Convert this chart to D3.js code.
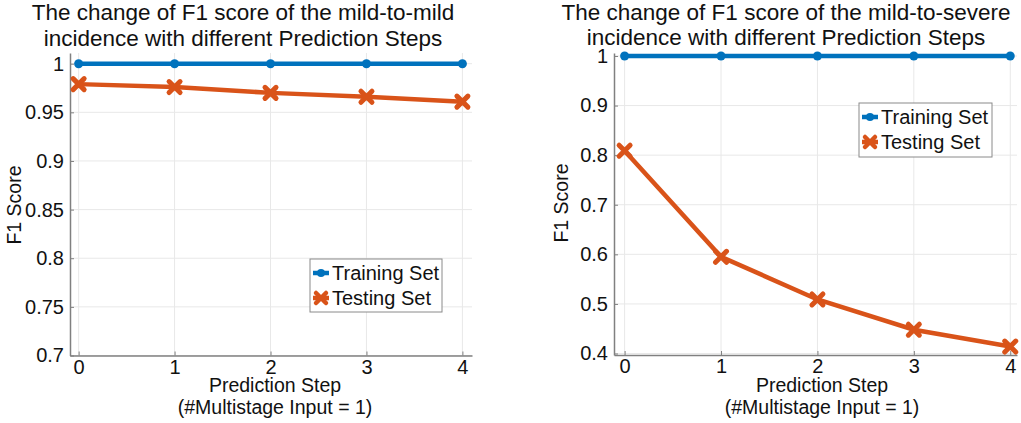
<!DOCTYPE html>
<html><head><meta charset="utf-8">
<script src="https://cdn.jsdelivr.net/npm/d3@7"></script>
<style>body{margin:0;background:#fff;} svg{display:block;font-family:"Liberation Sans",Arial,sans-serif;}</style>
</head><body>
<svg id="c" width="1021" height="423"></svg>
<script>
const steps = [0, 1, 2, 3, 4];
const trainMild = [1, 1, 1, 1, 1];
const testMild = [0.979, 0.976, 0.970, 0.966, 0.961];
const trainSevere = [1, 1, 1, 1, 1];
const testSevere = [0.809, 0.595, 0.509, 0.448, 0.414];
const yTicksMild = [0.7, 0.75, 0.8, 0.85, 0.9, 0.95, 1];
const yTicksSevere = [0.4, 0.5, 0.6, 0.7, 0.8, 0.9, 1];
const titlesMild = ["The change of F1 score of the mild-to-mild", "incidence with different Prediction Steps"];
const titlesSevere = ["The change of F1 score of the mild-to-severe", "incidence with different Prediction Steps"];
const seriesNames = ["Training Set", "Testing Set"];
const xLabel = ["Prediction Step", "(#Multistage Input = 1)"];
const yLabel = "F1 Score";

const BLUE = "#0072BD", ORANGE = "#D95319";
const svg = d3.select("#c");

function fmt(v){ return (v === 1) ? "1" : String(+v.toFixed(2)); }

function panel(cfg){
  const g = svg.append("g");
  const x = d3.scaleLinear().domain(cfg.xDomain).range(cfg.xRange);
  const y = d3.scaleLinear().domain(cfg.yDomain).range(cfg.yRange);
  // grid
  g.selectAll(".vg").data(steps).enter().append("line")
    .attr("x1", d => x(d)).attr("x2", d => x(d))
    .attr("y1", cfg.yRange[0]).attr("y2", cfg.yRange[1])
    .attr("stroke", "#e8e8e8").attr("stroke-width", 1);
  g.selectAll(".hg").data(cfg.yTicks).enter().append("line")
    .attr("x1", cfg.xRange[0]).attr("x2", cfg.xRange[1])
    .attr("y1", d => y(d)).attr("y2", d => y(d))
    .attr("stroke", "#e8e8e8").attr("stroke-width", 1);
  // axes
  const ax = d3.axisBottom(x).tickValues(steps).tickSize(-4).tickSizeOuter(0).tickPadding(4).tickFormat(d3.format("d"));
  const axG = g.append("g").attr("transform", `translate(0,${cfg.yRange[0]})`).call(ax);
  const ay = d3.axisLeft(y).tickValues(cfg.yTicks).tickSize(-4).tickSizeOuter(0).tickPadding(6).tickFormat(fmt);
  const ayG = g.append("g").attr("transform", `translate(${cfg.xRange[0]},0)`).call(ay);
  [axG, ayG].forEach(a => {
    a.select(".domain").attr("stroke", "#808080").attr("stroke-width", 1.5);
    a.selectAll(".tick line").attr("stroke", "#808080");
    a.selectAll(".tick text").attr("fill", "#111").style("font-size", "20px").style("font-family", "'Liberation Sans',Arial,sans-serif");
  });
  axG.selectAll(".tick text").attr("dy", "0.7em");
  // lines
  const line = d3.line().x((d, i) => x(steps[i])).y(d => y(d));
  g.append("path").datum(cfg.train).attr("d", line).attr("fill", "none").attr("stroke", BLUE).attr("stroke-width", 4.5);
  g.append("path").datum(cfg.test).attr("d", line).attr("fill", "none").attr("stroke", ORANGE).attr("stroke-width", 4.5);
  g.selectAll(".dot").data(cfg.train).enter().append("circle")
    .attr("cx", (d, i) => x(steps[i])).attr("cy", d => y(d)).attr("r", 4.5).attr("fill", BLUE);
  g.selectAll(".xm").data(cfg.test).enter().append("path")
    .attr("transform", (d, i) => `translate(${x(steps[i])},${y(d)})`)
    .attr("d", "M-5.5,-5.5L5.5,5.5M-5.5,5.5L5.5,-5.5").attr("stroke", ORANGE).attr("stroke-width", 5).attr("stroke-linecap", "round");
  // titles
  cfg.titles.forEach((t, i) => {
    g.append("text").attr("x", cfg.titleX).attr("y", cfg.titleY[i]).attr("text-anchor", "middle")
      .style("font-size", "22.5px").attr("fill", "#111").text(t);
  });
  // x label
  g.append("text").attr("x", cfg.xLabX).attr("y", 392).attr("text-anchor", "middle").style("font-size", "19.5px").attr("fill", "#111").text(xLabel[0]);
  g.append("text").attr("x", cfg.xLabX).attr("y", 414).attr("text-anchor", "middle").style("font-size", "19.5px").attr("fill", "#111").text(xLabel[1]);
  // y label
  g.append("text").attr("transform", `translate(${cfg.yLabX},${cfg.yLabY}) rotate(-90)`).attr("text-anchor", "middle")
    .style("font-size", "19.5px").attr("fill", "#111").text(yLabel);
  // legend
  const L = cfg.legend;
  const lg = g.append("g").attr("transform", `translate(${L[0]},${L[1]})`);
  lg.append("rect").attr("width", L[2]).attr("height", L[3]).attr("fill", "#fff").attr("stroke", "#8a8a8a").attr("stroke-width", 1);
  const colors = [BLUE, ORANGE];
  seriesNames.forEach((n, i) => {
    const cy = 14 + i * 25;
    lg.append("line").attr("x1", 3).attr("x2", 19).attr("y1", cy).attr("y2", cy).attr("stroke", colors[i]).attr("stroke-width", 4.5);
    if (i === 0) lg.append("circle").attr("cx", 11).attr("cy", cy).attr("r", 4).attr("fill", BLUE);
    else lg.append("path").attr("transform", `translate(11,${cy})`).attr("d", "M-5,-5L5,5M-5,5L5,-5").attr("stroke", ORANGE).attr("stroke-width", 4.5).attr("stroke-linecap", "round");
    lg.append("text").attr("x", 22).attr("y", cy + 7).style("font-size", "20px").attr("fill", "#111").text(n);
  });
}

panel({
  xDomain: [-0.09, 4.1], xRange: [70, 472],
  yDomain: [0.7, 1.011], yRange: [355.5, 53],
  yTicks: yTicksMild, train: trainMild, test: testMild,
  titles: titlesMild, titleX: 243, titleY: [20, 46],
  xLabX: 275, yLabX: 21, yLabY: 205,
  legend: [310, 259, 132, 53]
});
panel({
  xDomain: [-0.11, 4.07], xRange: [614, 1017],
  yDomain: [0.397, 1.006], yRange: [355, 53],
  yTicks: yTicksSevere, train: trainSevere, test: testSevere,
  titles: titlesSevere, titleX: 786, titleY: [20, 45],
  xLabX: 822, yLabX: 568, yLabY: 203,
  legend: [859, 103, 133, 54]
});
</script>
</body></html>
